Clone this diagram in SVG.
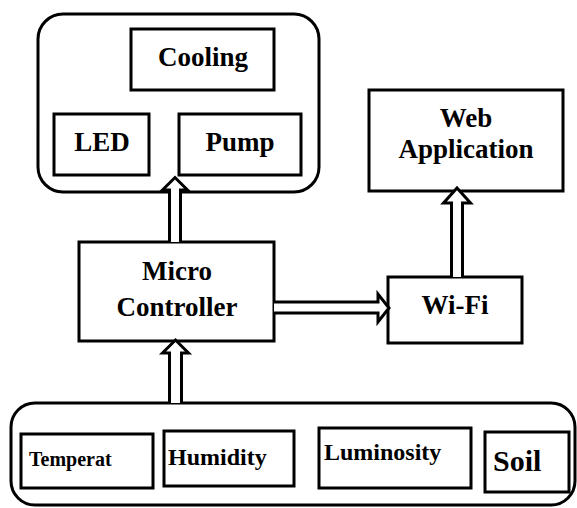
<svg xmlns="http://www.w3.org/2000/svg" width="577" height="508" viewBox="0 0 577 508">
<style>
.grp{fill:none;stroke:#000;stroke-width:3}
.box{fill:#fff;stroke:#000;stroke-width:3}
.arr{fill:#fff;stroke:#000;stroke-width:3;stroke-linejoin:miter}
text{font-family:"Liberation Serif","Times New Roman",serif;font-weight:bold;fill:#000;text-anchor:middle}
.t27{font-size:27px}
.tl{text-anchor:start}
</style>
<rect width="577" height="508" fill="#fff"/>
<g id="actuators">
<rect class="grp" x="38" y="14" width="281" height="178" rx="25"/>
</g>
<g id="cooling">
<rect class="box" x="131" y="29" width="143" height="61"/>
<text class="t27" x="203" y="66">Cooling</text>
</g>
<g id="led">
<rect class="box" x="54" y="114" width="95" height="61"/>
<text class="t27" x="102" y="151">LED</text>
</g>
<g id="pump">
<rect class="box" x="179" y="114" width="122" height="61"/>
<text class="t27" x="240" y="151">Pump</text>
</g>
<g id="microcontroller">
<rect class="box" x="79" y="242" width="195" height="99"/>
<text class="t27" x="177" y="280">Micro</text>
<text class="t27" x="177" y="316">Controller</text>
</g>
<g id="wifi">
<rect class="box" x="388" y="277" width="134" height="66"/>
<text class="t27" x="455" y="314">Wi-Fi</text>
</g>
<g id="webapp">
<rect class="box" x="369" y="90" width="194" height="101"/>
<text class="t27" x="466" y="127">Web</text>
<text class="t27" x="466" y="158">Application</text>
</g>
<g id="sensors">
<rect class="grp" x="11" y="403" width="564" height="102" rx="24"/>
</g>
<g id="temperature">
<rect class="box" x="21" y="434" width="132" height="54"/>
<text class="tl" x="29" y="466" font-size="20">Temperat</text>
</g>
<g id="humidity">
<rect class="box" x="164" y="431" width="130" height="55"/>
<text class="tl" x="168" y="465" font-size="24">Humidity</text>
</g>
<g id="luminosity">
<rect class="box" x="319" y="428" width="152" height="60"/>
<text class="tl" x="324" y="460" font-size="24">Luminosity</text>
</g>
<g id="soil">
<rect class="box" x="485" y="432" width="84" height="60"/>
<text class="tl" x="493" y="471" font-size="30">Soil</text>
</g>
<g id="connectors">
<path class="arr" d="M169.5,242 V190 H162.5 L175,177.5 L187.5,190 H180.5 V242"/>
<path class="arr" d="M169.5,403 V353 H162.5 L175.5,340 L188.5,353 H181.5 V403"/>
<path class="arr" d="M274,302 H378 V294 L389,308 L378,322 V313 H274"/>
<path class="arr" d="M451.5,277 V203 H443.5 L457,188 L470.5,203 H462.5 V277"/>
</g>
</svg>
